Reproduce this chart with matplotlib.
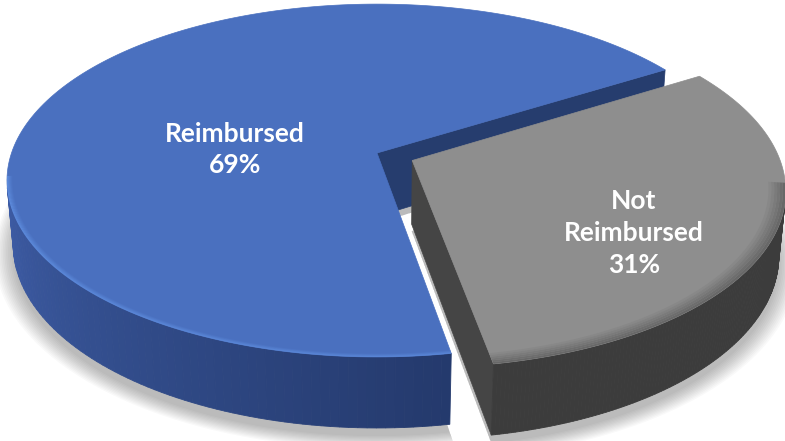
import numpy as np
import matplotlib.pyplot as plt
from matplotlib.patches import Polygon

labels = ['Reimbursed', 'Not Reimbursed']
shares = [69, 31]
top_colors = ['#4a70bf', '#8e8e8e']
wall_light = ['#3e5da6', '#424242']
wall_dark = ['#24396c', '#3c3c3c']
cut_colors = ['#263d6e', '#454545']
rim_colors = ['#5e8dde', '#686868']
bevel = [0.014, 0.045]
explode = [0.0, 0.105]

# camera / projection settings (pixels)
cx, cy = 377, 153
f = 2065
dist = 5.65
tilt = np.radians(28.1)
thick = 0.2
start = 31.5

cam = np.array([0.0, -dist * np.cos(tilt), dist * np.sin(tilt)])


def project(X, Y, Z):
    depth = dist + Y * np.cos(tilt) - Z * np.sin(tilt)
    up = Y * np.sin(tilt) + Z * np.cos(tilt)
    return cx + f * X / depth, cy - f * up / depth


def ring(t, r, ox, oy, z):
    X = ox + r * np.cos(np.radians(t))
    Y = oy + r * np.sin(np.radians(t))
    return np.column_stack(project(X, Y, np.full_like(X, z)))


def mix(c1, c2, w):
    a = np.array(plt.matplotlib.colors.to_rgb(c1))
    b = np.array(plt.matplotlib.colors.to_rgb(c2))
    return tuple(a + (b - a) * w)


fig = plt.figure(figsize=(7.85, 4.41), dpi=100)
ax = fig.add_axes([0, 0, 1, 1])
ax.set_xlim(0, 785)
ax.set_ylim(441, 0)
ax.axis('off')

# slice angles, counter-clockwise from the start angle
spans = [s / sum(shares) * 360 for s in shares]
bounds = []
a = start
for sp in spans:
    bounds.append((a, a + sp))
    a += sp

offsets = []
for (a0, a1), e in zip(bounds, explode):
    mid = np.radians((a0 + a1) / 2)
    offsets.append((e * np.cos(mid), e * np.sin(mid)))

# soft shadow under the pie
for k in np.linspace(0.0, 0.05, 12):
    for (a0, a1), (ox, oy) in zip(bounds, offsets):
        t = np.linspace(a0, a1, 120)
        pts = ring(t, 1 + k, ox, oy - 0.012, -thick - 0.015)
        c = np.array(project(ox, oy - 0.012, -thick - 0.015))
        ax.add_patch(Polygon(np.vstack([c, pts]), closed=True,
                             facecolor='#000000', edgecolor='none', alpha=0.022))

for i, ((a0, a1), (ox, oy)) in enumerate(zip(bounds, offsets)):
    # radial cut faces
    for ang, sign in ((a0, -1), (a1, 1)):
        n = np.radians(ang + sign * 90)
        nx, ny = np.cos(n), np.sin(n)
        if (cam[0] - ox) * nx + (cam[1] - oy) * ny > 0:
            p = np.array([
                project(ox, oy, 0.0),
                tuple(ring(np.array([ang]), 1, ox, oy, 0.0)[0]),
                tuple(ring(np.array([ang]), 1, ox, oy, -thick)[0]),
                project(ox, oy, -thick),
            ])
            ax.add_patch(Polygon(p, closed=True, facecolor=cut_colors[i],
                                 edgecolor=cut_colors[i], lw=0.5))

    # outer wall, shaded by angle
    t = np.linspace(a0, a1, 200)
    top = ring(t, 1, ox, oy, 0.0)
    bot = ring(t, 1, ox, oy, -thick)
    for j in range(len(t) - 1):
        tm = np.radians((t[j] + t[j + 1]) / 2)
        vis = -ox * np.cos(tm) - (-cam[1] + oy) * np.sin(tm) - 1
        if vis <= 0:
            continue
        w = np.clip(((t[j] % 360) - 190) / 90, 0, 1)
        col = mix(wall_light[i], wall_dark[i], w)
        q = np.array([top[j], top[j + 1], bot[j + 1], bot[j]])
        ax.add_patch(Polygon(q, closed=True, facecolor=col, edgecolor=col, lw=0.6))

    # top face
    c = np.array(project(ox, oy, 0.0))
    ax.add_patch(Polygon(np.vstack([c, top]), closed=True,
                         facecolor=top_colors[i], edgecolor=top_colors[i], lw=0.5))

    # bevel along the front rim
    tf = t[np.sin(np.radians(t)) < -0.12]
    if len(tf):
        radii = np.linspace(1 - bevel[i], 1.0, 7)
        for r0, r1, w in zip(radii[:-1], radii[1:], np.linspace(0.15, 1, 6)):
            band = np.vstack([ring(tf, r0, ox, oy, 0.0), ring(tf[::-1], r1, ox, oy, 0.0)])
            col = mix(top_colors[i], rim_colors[i], w)
            ax.add_patch(Polygon(band, closed=True, facecolor=col, edgecolor='none'))

# data labels
font = dict(color='white', fontsize=19, fontweight='bold',
            family=['Lato', 'DejaVu Sans'], ha='center', va='baseline')
label_lines = [
    [labels[0], f'{shares[0]}%'],
    ['Not', 'Reimbursed', f'{shares[1]}%'],
]
label_x = [235, 634]
label_y = [[142, 173], [209, 241, 273]]
for lines, x, ys in zip(label_lines, label_x, label_y):
    for s, y in zip(lines, ys):
        ax.text(x, y, s, **font)

plt.savefig('out.png', dpi=100)
